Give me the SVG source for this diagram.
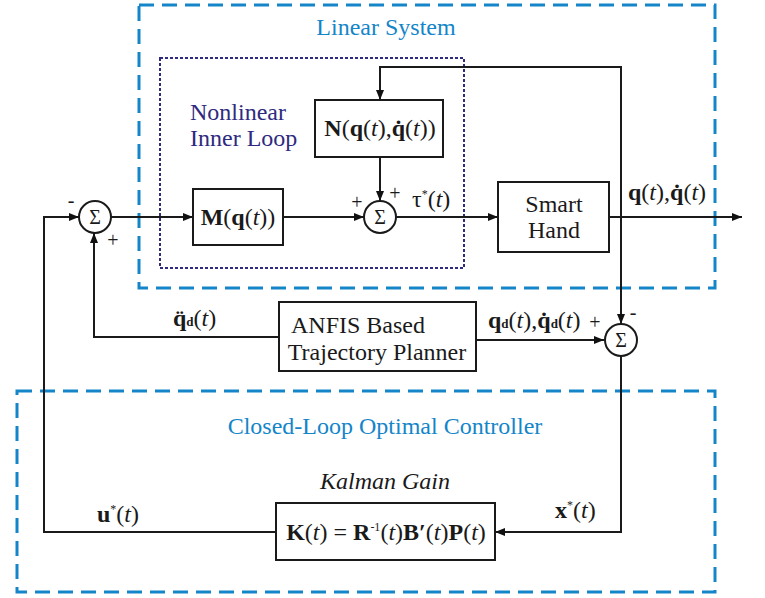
<svg xmlns="http://www.w3.org/2000/svg" width="765" height="598" viewBox="0 0 765 598" font-family="'Liberation Serif', 'Times New Roman', serif">
<defs>
<marker id="arr" viewBox="0 0 10 8" refX="10" refY="4" markerWidth="10" markerHeight="8" markerUnits="userSpaceOnUse" orient="auto">
<path d="M0,0 L10,4 L0,8 Z" fill="#111"/>
</marker>
<style>
text{fill:#1a1a1a}
.box{fill:#fff;stroke:#1a1a1a;stroke-width:2}
.sum{fill:#fff;stroke:#1a1a1a;stroke-width:2}
.wire{fill:none;stroke:#1a1a1a;stroke-width:2}
.blue{fill:none;stroke:#1485c8;stroke-width:3;stroke-dasharray:15 8}
.dot{fill:none;stroke:#2e2a80;stroke-width:2;stroke-dasharray:3 2}
.lbl{font-size:24px}
.m{font-size:24px}
.b{font-weight:bold}
.i{font-style:italic}
.sg{font-size:20px}
.pm{font-size:20px}
.sup{font-size:12px}
.sub{font-size:13px;font-weight:bold}
.bluet{fill:#1485c8;font-size:24px}
.navy{fill:#2e2a80;font-size:24px}
</style>
</defs>

<g id="linear-system">
<rect class="blue" x="139" y="5" width="576" height="283"/>
<text class="bluet" x="386" y="35" text-anchor="middle">Linear System</text>
</g>

<g id="closed-loop">
<rect class="blue" x="17" y="391" width="698" height="201"/>
<text class="bluet" x="385" y="434" text-anchor="middle">Closed-Loop Optimal Controller</text>
</g>

<g id="nonlinear-loop">
<rect class="dot" x="160" y="58" width="304" height="210"/>
<text class="navy" x="190" y="120">Nonlinear</text>
<text class="navy" x="190" y="146">Inner Loop</text>
</g>

<g id="connectors">
<line class="wire" x1="111" y1="217" x2="193" y2="217" marker-end="url(#arr)"/>
<line class="wire" x1="283" y1="217" x2="364" y2="217" marker-end="url(#arr)"/>
<line class="wire" x1="380" y1="157" x2="380" y2="201" marker-end="url(#arr)"/>
<line class="wire" x1="396" y1="217" x2="498" y2="217" marker-end="url(#arr)"/>
<line class="wire" x1="609" y1="217" x2="742" y2="217" marker-end="url(#arr)"/>
<path class="wire" d="M621,217 V67 H380 V100" marker-end="url(#arr)"/>
<line class="wire" x1="621" y1="217" x2="621" y2="324" marker-end="url(#arr)"/>
<line class="wire" x1="476" y1="340" x2="604" y2="340" marker-end="url(#arr)"/>
<path class="wire" d="M279,337 H94 V233" marker-end="url(#arr)"/>
<path class="wire" d="M621,356 V532 H495" marker-end="url(#arr)"/>
<path class="wire" d="M276,532 H44 V217 H79" marker-end="url(#arr)"/>
</g>

<g id="sum1">
<circle class="sum" cx="95" cy="217" r="16"/>
<text class="sg" x="95" y="224" text-anchor="middle">Σ</text>
<text class="pm" x="71" y="207" text-anchor="middle">-</text>
<text class="pm" x="113" y="247" text-anchor="middle">+</text>
</g>

<g id="m-block">
<rect class="box" x="193" y="189" width="90" height="56"/>
<text class="m" x="238" y="225" text-anchor="middle"><tspan class="b">M</tspan>(<tspan class="b">q</tspan>(<tspan class="i">t</tspan>))</text>
</g>

<g id="n-block">
<rect class="box" x="315" y="100" width="128" height="57"/>
<text class="m" x="380" y="136" text-anchor="middle"><tspan class="b">N</tspan>(<tspan class="b">q</tspan>(<tspan class="i">t</tspan>),<tspan class="b">q̇</tspan>(<tspan class="i">t</tspan>))</text>
</g>

<g id="sum2">
<circle class="sum" cx="380" cy="217" r="16"/>
<text class="sg" x="380" y="224" text-anchor="middle">Σ</text>
<text class="pm" x="357" y="209" text-anchor="middle">+</text>
<text class="pm" x="395" y="200" text-anchor="middle">+</text>
<text class="m" x="412" y="207">τ<tspan class="sup" dy="-9">*</tspan><tspan dy="9">(</tspan><tspan class="i">t</tspan>)</text>
</g>

<g id="smart-hand">
<rect class="box" x="498" y="182" width="111" height="70"/>
<text class="lbl" x="554" y="212" text-anchor="middle">Smart</text>
<text class="lbl" x="554" y="238" text-anchor="middle">Hand</text>
</g>

<g id="output-label">
<text class="m" x="628" y="200"><tspan class="b">q</tspan>(<tspan class="i">t</tspan>),<tspan class="b">q̇</tspan>(<tspan class="i">t</tspan>)</text>
</g>

<g id="anfis">
<rect class="box" x="279" y="302" width="197" height="69"/>
<text class="lbl" x="358" y="333" text-anchor="middle">ANFIS Based</text>
<text class="lbl" x="377" y="360" text-anchor="middle">Trajectory Planner</text>
<text class="m" x="173" y="326"><tspan class="b">q̈</tspan><tspan class="sub">d</tspan>(<tspan class="i">t</tspan>)</text>
<text class="m" x="488" y="328"><tspan class="b">q</tspan><tspan class="sub">d</tspan>(<tspan class="i">t</tspan>),<tspan class="b">q̇</tspan><tspan class="sub">d</tspan>(<tspan class="i">t</tspan>)</text>
</g>

<g id="sum3">
<circle class="sum" cx="621" cy="340" r="16"/>
<text class="sg" x="621" y="347" text-anchor="middle">Σ</text>
<text class="pm" x="595" y="329" text-anchor="middle">+</text>
<text class="pm" x="633" y="319" text-anchor="middle">-</text>
</g>

<g id="kalman">
<text class="lbl i" x="385" y="489" text-anchor="middle">Kalman Gain</text>
<rect class="box" x="276" y="503" width="219" height="57"/>
<text class="m" x="386" y="540" text-anchor="middle"><tspan class="b">K</tspan>(<tspan class="i">t</tspan>) = <tspan class="b">R</tspan><tspan class="sup" dy="-9">-1</tspan><tspan dy="9">(</tspan><tspan class="i">t</tspan>)<tspan class="b">B′</tspan>(<tspan class="i">t</tspan>)<tspan class="b">P</tspan>(<tspan class="i">t</tspan>)</text>
<text class="m" x="97" y="522"><tspan class="b">u</tspan><tspan class="sup" dy="-9">*</tspan><tspan dy="9">(</tspan><tspan class="i">t</tspan>)</text>
<text class="m" x="555" y="518"><tspan class="b">x</tspan><tspan class="sup" dy="-9">*</tspan><tspan dy="9">(</tspan><tspan class="i">t</tspan>)</text>
</g>
</svg>
